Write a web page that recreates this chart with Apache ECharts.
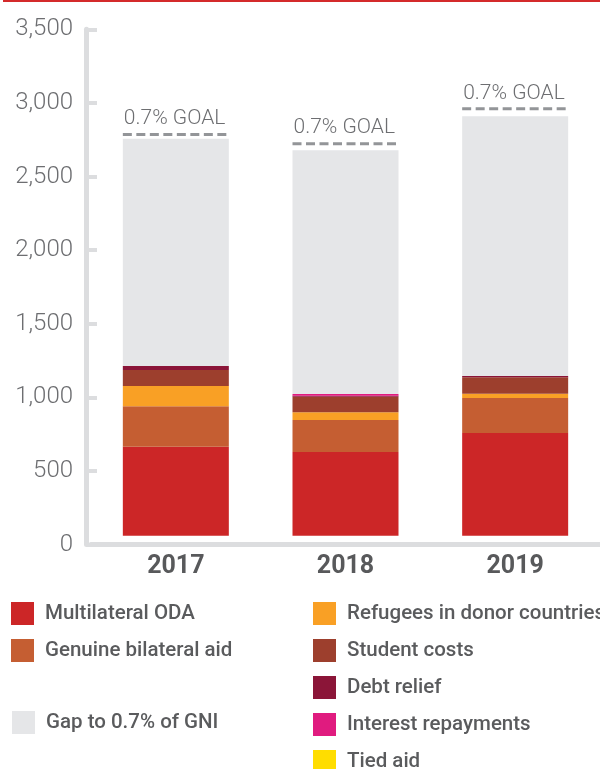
<!DOCTYPE html>
<html>
<head>
<meta charset="utf-8">
<script src="https://cdn.jsdelivr.net/npm/echarts@6/dist/echarts.min.js"></script>
<style>
html,body{margin:0;padding:0;background:#fff;}
#chart{width:600px;height:769px;}
</style>
</head>
<body>
<div id="chart"></div>
<script>
// ---- data ----
var years = ['2017', '2018', '2019'];
var multilateral = [604, 568, 697];
var bilateral = [276, 217, 238];
var refugees = [136, 54, 29];
var studentCosts = [109, 104, 113];
var debtRelief = [27, 7, 7];
var interestRepayments = [0, 12, 0];
var tiedAid = [0, 0, 0];
var gapToGoal = [1545, 1656, 1765];
var goal = [2726, 2663, 2900];
var yTicks = [0, 500, 1000, 1500, 2000, 2500, 3000, 3500];

var seriesNames = ['Multilateral ODA', 'Genuine bilateral aid', 'Refugees in donor countries',
  'Student costs', 'Debt relief', 'Interest repayments', 'Tied aid', 'Gap to 0.7% of GNI'];
var seriesData = [multilateral, bilateral, refugees, studentCosts, debtRelief, interestRepayments, tiedAid, gapToGoal];
var colors = ['#cc2627', '#c55e32', '#f9a025', '#9d3f2d', '#8b1538', '#e01b7f', '#ffdd00', '#e5e6e8'];

var FONT = "Roboto, 'Noto Sans', sans-serif";
var BAR_W = 106;
var AXIS_C = '#dcdddf';

var chart = echarts.init(document.getElementById('chart'));

var series = seriesNames.map(function (n, i) {
  return {
    name: n, type: 'bar', stack: 'oda', yAxisIndex: 1,
    barWidth: BAR_W, data: seriesData[i],
    itemStyle: {color: colors[i]},
    emphasis: {disabled: true}
  };
});

series.push({
  type: 'custom', name: 'goal', yAxisIndex: 1, z: 5,
  data: years.map(function (y, i) { return [i, goal[i]]; }),
  renderItem: function (params, api) {
    var p = api.coord([api.value(0), api.value(1)]);
    var x0 = p[0] - BAR_W / 2, x1 = p[0] + BAR_W / 2 + 2;
    return {
      type: 'group',
      children: [
        {type: 'line', shape: {x1: x0, y1: p[1], x2: x1, y2: p[1]},
          style: {stroke: '#939598', lineWidth: 3, lineDash: [9, 4.5]}},
        {type: 'text', x: x0 + 1, y: p[1] - 5,
          style: {text: '0.7% GOAL', fill: '#6d6e71', font: '300 21px ' + FONT,
            textAlign: 'left', textVerticalAlign: 'bottom'}}
      ]
    };
  }
});

var legendText = {fontFamily: FONT, fontWeight: 500, fontSize: 20.5, color: '#5a5b5d', lineHeight: 23, padding: [0, 0, 0, 6]};
function mkLegend(names, left, top) {
  return {
    data: names, orient: 'vertical', left: left, top: top, padding: 0,
    height: 400, width: 400,
    itemWidth: 23, itemHeight: 23, itemGap: 14, icon: 'rect',
    textStyle: legendText, selectedMode: false
  };
}

chart.setOption({
  animation: false,
  backgroundColor: '#ffffff',
  graphic: [{type: 'rect', shape: {x: 3, y: 0, width: 597, height: 2}, style: {fill: '#d42a2b'}}],
  grid: {left: 91, right: -8.5, top: 29.3, bottom: 224.5, containLabel: false},
  xAxis: {
    type: 'category', data: years,
    axisLine: {lineStyle: {color: AXIS_C, width: 5}},
    axisTick: {inside: true, length: 13, lineStyle: {color: AXIS_C, width: 5}},
    axisLabel: {fontFamily: FONT, fontWeight: 'bold', fontSize: 25, color: '#58595b', margin: 10}
  },
  yAxis: [{
    type: 'value', min: yTicks[0], max: yTicks[yTicks.length - 1], interval: yTicks[1] - yTicks[0],
    offset: 5,
    axisLine: {show: true, lineStyle: {color: AXIS_C, width: 5}},
    axisTick: {show: true, inside: true, length: 11, lineStyle: {color: AXIS_C, width: 4}},
    splitLine: {show: false},
    axisLabel: {fontFamily: FONT, fontWeight: 300, fontSize: 24, color: '#6d6e71', margin: 13,
      formatter: function (v) { return v.toLocaleString('en-US'); }}
  }, {
    type: 'value', min: -60, max: 3440, show: false, splitLine: {show: false}
  }],
  legend: [
    mkLegend(['Multilateral ODA', 'Genuine bilateral aid'], 11, 602),
    mkLegend(['Gap to 0.7% of GNI'], 12, 711),
    mkLegend(['Refugees in donor countries', 'Student costs', 'Debt relief', 'Interest repayments', 'Tied aid'], 313, 602)
  ],
  series: series
});
</script>
</body>
</html>
